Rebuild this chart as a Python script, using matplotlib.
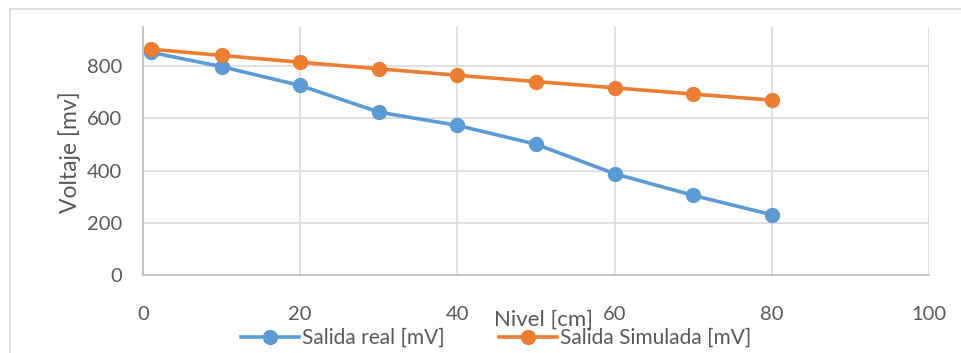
import matplotlib
matplotlib.use("Agg")
import matplotlib.pyplot as plt
from matplotlib.patches import Rectangle

nivel = [1, 10, 20, 30, 40, 50, 60, 70, 80]
salida_real = [853, 798, 726, 624, 573, 501, 388, 305, 231]
salida_simulada = [865, 841, 815, 790, 765, 741, 717, 693, 670]
x_ticks = [0, 20, 40, 60, 80, 100]
y_ticks = [0, 200, 400, 600, 800]

plt.rcParams['font.family'] = ['Lato', 'DejaVu Sans']
txt = '#595959'
grid = '#D9D9D9'

fig = plt.figure(figsize=(9.61, 3.53), dpi=100)
W, H = 961, 353
fig.patches.append(Rectangle((10 / W, -0.1), 1.1, 1 - 9.5 / H + 0.1,
                             transform=fig.transFigure, fill=False,
                             edgecolor='#D9D9D9', linewidth=1.2, zorder=0))

ax = fig.add_axes([143 / W, 1 - 275 / H, (929 - 143) / W, (275 - 27) / H])
ax.plot(nivel, salida_real, color='#5B9BD5', lw=2.6, marker='o', ms=10,
        label='Salida real [mV]', zorder=3, clip_on=False)
ax.plot(nivel, salida_simulada, color='#ED7D31', lw=2.6, marker='o', ms=10,
        label='Salida Simulada [mV]', zorder=4, clip_on=False)

ax.set_xlim(0, 100)
ax.set_ylim(0, 950)
ax.set_xticks(x_ticks)
ax.set_yticks(y_ticks)
ax.grid(True, color=grid, lw=1.2)
ax.set_axisbelow(True)
ax.spines['top'].set_visible(False)
ax.spines['right'].set_visible(False)
ax.spines['left'].set_color('#BFBFBF')
ax.spines['bottom'].set_color('#BFBFBF')
ax.spines['left'].set_linewidth(1.2)
ax.spines['bottom'].set_linewidth(1.2)
ax.tick_params(length=0, labelsize=14.5, colors=txt)
ax.tick_params(axis='x', pad=22)
ax.tick_params(axis='y', pad=15)

ax.set_ylabel('Voltaje [mv]', fontsize=16.5, color=txt)
ax.yaxis.set_label_coords((81 - 143) / (929 - 143), (275 - 152) / (275 - 27))
fig.text(543 / W, 1 - 320 / H, 'Nivel [cm]', fontsize=16, color=txt,
         ha='center', va='center')

fig.legend(loc='center', bbox_to_anchor=(496 / W, 1 - 338 / H), ncol=2,
           frameon=False, fontsize=15, labelcolor=txt, handlelength=2.8,
           handletextpad=0.15, columnspacing=2.6, borderaxespad=0)

fig.savefig('out.png', dpi=100)
